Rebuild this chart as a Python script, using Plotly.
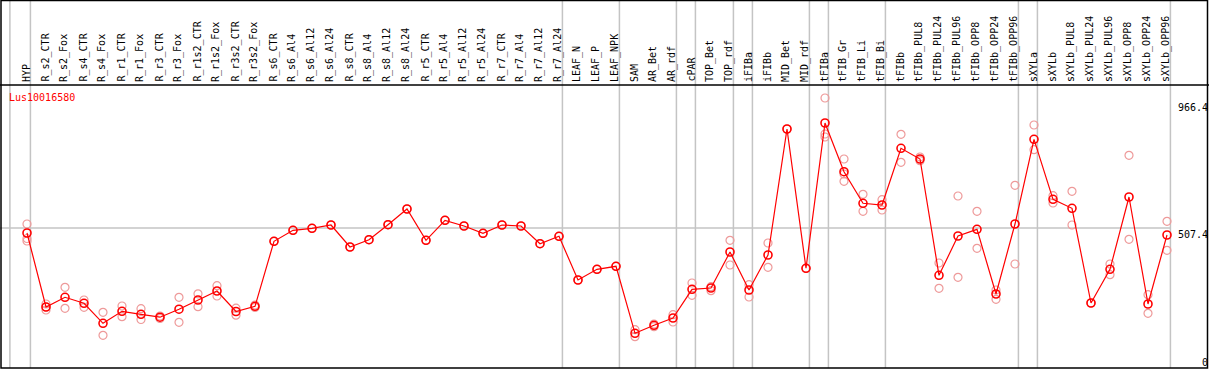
import plotly.graph_objects as go

categories = ["HYP", "R_s2_CTR", "R_s2_Fox", "R_s4_CTR", "R_s4_Fox", "R_r1_CTR", "R_r1_Fox",
              "R_r3_CTR", "R_r3_Fox", "R_r1s2_CTR", "R_r1s2_Fox", "R_r3s2_CTR", "R_r3s2_Fox",
              "R_s6_CTR", "R_s6_Al4", "R_s6_Al12", "R_s6_Al24", "R_s8_CTR", "R_s8_Al4",
              "R_s8_Al12", "R_s8_Al24", "R_r5_CTR", "R_r5_Al4", "R_r5_Al12", "R_r5_Al24",
              "R_r7_CTR", "R_r7_Al4", "R_r7_Al12", "R_r7_Al24", "LEAF_N", "LEAF_P", "LEAF_NPK",
              "SAM", "AR_Bet", "AR_rdf", "cPAR", "TOP_Bet", "TOP_rdf", "iFIBa", "iFIBb",
              "MID_Bet", "MID_rdf", "tFIBa", "tFIB_Gr", "tFIB_Li", "tFIB_Bi", "tFIBb",
              "tFIBb_PUL8", "tFIBb_PUL24", "tFIBb_PUL96", "tFIBb_OPP8", "tFIBb_OPP24",
              "tFIBb_OPP96", "sXYLa", "sXYLb", "sXYLb_PUL8", "sXYLb_PUL24", "sXYLb_PUL96",
              "sXYLb_OPP8", "sXYLb_OPP24", "sXYLb_OPP96"]

means = [489.3, 221.1, 256.3, 234.5, 162.0, 205.5, 194.6, 184.1, 213.1, 246.5, 279.1, 204.8,
         223.6, 459.2, 499.1, 506.3, 518.3, 438.6, 465.0, 519.4, 576.3, 462.9, 535.3, 514.7,
         488.2, 518.3, 514.7, 450.5, 477.3, 319.0, 357.7, 368.6, 125.8, 154.8, 181.2, 285.2,
         290.0, 420.4, 282.7, 409.6, 866.3, 361.4, 888.0, 711.5, 597.0, 590.8, 796.3, 757.5,
         336.0, 478.4, 502.7, 268.2, 521.9, 828.9, 611.4, 578.8, 235.6, 357.7, 619.8, 232.0,
         482.1]

replicates = [
    [521.9, 469.4, 460.3], [232.0, 221.1, 210.2], [292.5, 216.4], [246.5, 220.0],
    [201.9, 118.5], [224.7, 185.9], [214.9, 175.8], [188.5, 179.4], [256.3, 165.6],
    [268.9, 222.2], [298.3, 261.0], [216.7, 191.4], [228.3, 219.3],
    [459.2], [499.1], [506.3], [518.3], [438.6], [465.0], [519.4], [576.3],
    [462.9], [535.3], [514.7], [488.2], [518.3], [514.7], [450.5], [477.3],
    [319.0], [357.7], [368.6],
    [138.8, 113.4], [159.5, 149.7], [193.2, 166.7], [308.1, 263.5], [294.7, 280.2],
    [462.9, 373.3], [301.9, 257.3], [453.1, 365.0], [866.3], [361.4],
    [978.6, 848.1, 837.3], [757.5, 676.7, 703.2], [629.6, 568.0], [610.0, 572.7],
    [847.0, 745.6], [764.8, 751.4], [380.6, 288.9], [623.4, 328.7], [568.0, 433.9],
    [282.7, 249.0], [662.2, 376.9], [880.8, 791.2], [624.5, 598.0], [640.5, 518.3],
    [235.6], [376.9, 338.2], [770.9, 466.5], [265.7, 198.3], [531.7, 426.6]]

# index of the last category of each group (a grey separator follows it)
group_ends = [0, 28, 31, 34, 35, 37, 38, 41, 42, 45, 52, 53, 60]

y_tick_values = [966.4, 507.4, 0]
y_tick_labels = ["966.4", "507.4", "0"]
gene_name = "Lus10016580"

W, H = 1209, 370
X0_PX, STEP_PX = 27.0, 19.0        # pixel of first category, spacing
Y0_PX, K = 368.0, 0.2759           # pixel of value 0, pixels per unit

x_range = [-X0_PX / STEP_PX, (W - X0_PX) / STEP_PX]
y_range = [-(H - Y0_PX) / K, Y0_PX / K]
label_base = (Y0_PX - 83) / K      # value at bottom of rotated category labels
header_line = (Y0_PX - 85) / K

xs = list(range(len(categories)))
font = "DejaVu Sans Mono, monospace"

fig = go.Figure()

rep_x, rep_y = [], []
for i, vals in enumerate(replicates):
    for v in vals:
        rep_x.append(i)
        rep_y.append(v)

fig.add_trace(go.Scatter(x=rep_x, y=rep_y, mode="markers",
                         marker=dict(symbol="circle-open", size=8, color="#ee9a9a",
                                     line=dict(width=1.2)),
                         showlegend=False, hoverinfo="skip"))
fig.add_trace(go.Scatter(x=xs, y=means, mode="lines+markers",
                         line=dict(color="#ff0000", width=1.2),
                         marker=dict(symbol="circle-open", size=8, color="#ff0000",
                                     line=dict(width=1.6)),
                         showlegend=False))

shapes = []
seps = [-0.9] + [g + 0.18 for g in group_ends]
for s in seps:
    shapes.append(dict(type="line", xref="x", yref="y", x0=s, x1=s, y0=0, y1=y_range[1],
                       line=dict(color="#c4c4c4", width=1.5), layer="below"))
# mid reference gridline
shapes.append(dict(type="line", xref="x", yref="y", x0=x_range[0], x1=seps[-1],
                   y0=y_tick_values[1], y1=y_tick_values[1],
                   line=dict(color="#c4c4c4", width=1.5), layer="below"))
# header separator line
shapes.append(dict(type="line", xref="paper", yref="y", x0=0, x1=1,
                   y0=header_line, y1=header_line, line=dict(color="black", width=1.5)))
# outer frame
shapes.append(dict(type="rect", xref="paper", yref="y", x0=1.0 / W, x1=(W - 1.5) / W,
                   y0=0, y1=(Y0_PX - 0.5) / K, line=dict(color="black", width=1.5)))

annotations = []
for i, c in enumerate(categories):
    annotations.append(dict(x=i, y=label_base, xref="x", yref="y", text=c, showarrow=False,
                            textangle=-90, xanchor="center", yanchor="bottom", xshift=-1,
                            borderpad=0, font=dict(family=font, size=10, color="black")))
for v, t in zip(y_tick_values, y_tick_labels):
    annotations.append(dict(x=1, y=v, xref="paper", yref="y", text=t, showarrow=False,
                            xanchor="right", yanchor="top" if v > 0 else "bottom",
                            xshift=0, yshift=0 if v > 0 else -1, borderpad=0,
                            font=dict(family=font, size=10, color="black")))
annotations.append(dict(x=0, y=(Y0_PX - 97) / K, xref="paper", yref="y", text=gene_name,
                        showarrow=False, xanchor="left", yanchor="middle", xshift=8,
                        borderpad=0, font=dict(family=font, size=10, color="#ff0000")))

fig.update_layout(width=W, height=H, margin=dict(l=0, r=0, t=0, b=0),
                  paper_bgcolor="white", plot_bgcolor="white",
                  shapes=shapes, annotations=annotations,
                  xaxis=dict(range=x_range, showgrid=False, zeroline=False,
                             showticklabels=False, ticks="", fixedrange=True),
                  yaxis=dict(range=y_range, showgrid=False, zeroline=False,
                             showticklabels=False, ticks="", fixedrange=True))

fig.write_html("out.html", config={"displayModeBar": False},
               post_script="document.body.style.margin='0';document.body.style.overflow='hidden';")
